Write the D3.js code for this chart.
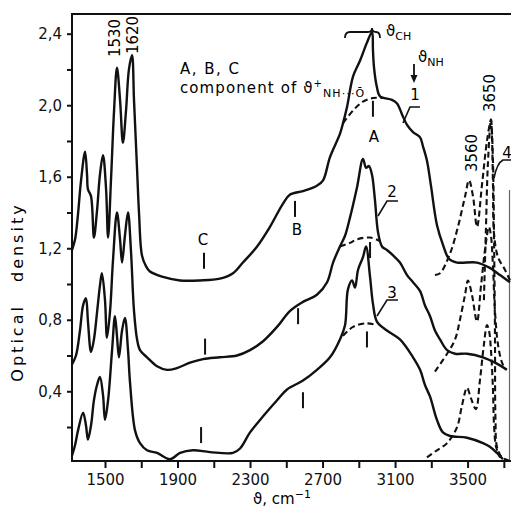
<!DOCTYPE html>
<html>
<head>
<meta charset="utf-8">
<script src="https://cdn.jsdelivr.net/npm/d3@7"></script>
<style>
  body { margin: 0; background: #fff; }
  svg { display: block; font-family: 'DejaVu Sans', sans-serif; }
</style>
</head>
<body>
<svg id="chart" width="511" height="510"></svg>
<script>
// spectra, [wavenumber cm-1, optical density]
const spectrum1 = [[1318,1.19],[1335,1.25],[1351,1.39],[1368,1.58],[1390,1.74],[1401,1.61],[1406,1.53],[1423,1.49],[1439,1.26],[1456,1.41],[1472,1.61],[1489,1.72],[1506,1.53],[1517,1.26],[1533,1.58],[1550,1.97],[1566,2.21],[1583,2.03],[1599,1.79],[1616,1.97],[1632,2.20],[1649,2.28],[1660,2.03],[1677,1.64],[1688,1.39],[1704,1.16],[1726,1.10],[1748,1.07],[1820,1.04],[1914,1.02],[2024,1.02],[2134,1.03],[2206,1.06],[2261,1.12],[2339,1.21],[2410,1.32],[2482,1.45],[2521,1.50],[2592,1.52],[2669,1.55],[2703,1.58],[2741,1.71],[2796,1.84],[2813,1.90],[2835,1.99],[2868,2.16],[2907,2.25],[2945,2.35],[2973,2.41],[2978,2.31],[2984,2.21],[3000,2.10],[3017,2.05],[3083,2.03],[3111,2.01],[3138,1.95],[3166,1.89],[3199,1.85],[3238,1.82],[3254,1.77],[3276,1.69],[3298,1.55],[3331,1.33],[3364,1.22],[3398,1.14],[3442,1.12],[3552,1.12],[3623,1.09],[3679,1.05],[3734,1.01]]
const spectrum2 = [[1318,0.55],[1340,0.60],[1362,0.74],[1379,0.88],[1395,0.92],[1406,0.79],[1423,0.62],[1439,0.69],[1456,0.84],[1472,0.99],[1483,1.06],[1500,0.91],[1511,0.70],[1528,0.85],[1544,1.13],[1566,1.40],[1583,1.25],[1594,1.12],[1610,1.27],[1627,1.40],[1643,1.19],[1660,0.85],[1677,0.69],[1693,0.63],[1732,0.59],[1787,0.54],[1842,0.52],[1897,0.53],[1969,0.56],[2041,0.58],[2134,0.59],[2228,0.60],[2300,0.63],[2372,0.68],[2449,0.76],[2521,0.85],[2592,0.90],[2669,0.94],[2725,1.01],[2758,1.12],[2796,1.21],[2824,1.27],[2851,1.37],[2890,1.54],[2923,1.70],[2940,1.65],[2956,1.66],[2973,1.61],[2989,1.47],[3006,1.29],[3028,1.21],[3055,1.19],[3089,1.16],[3127,1.12],[3166,1.05],[3199,1.01],[3238,0.96],[3265,0.88],[3293,0.82],[3320,0.74],[3348,0.69],[3387,0.63],[3431,0.61],[3497,0.61],[3585,0.59],[3651,0.56],[3717,0.52]]
const spectrum3 = [[1318,0.04],[1335,0.10],[1351,0.18],[1379,0.28],[1395,0.21],[1406,0.13],[1423,0.21],[1439,0.35],[1456,0.435],[1472,0.48],[1489,0.38],[1500,0.24],[1517,0.35],[1539,0.63],[1555,0.82],[1566,0.71],[1577,0.59],[1594,0.74],[1610,0.81],[1627,0.63],[1638,0.45],[1666,0.18],[1693,0.11],[1732,0.07],[1787,0.055],[1859,0.02],[1914,0.055],[1985,0.07],[2079,0.06],[2206,0.055],[2245,0.08],[2300,0.17],[2372,0.26],[2449,0.35],[2504,0.41],[2592,0.46],[2669,0.52],[2741,0.59],[2796,0.69],[2824,0.77],[2840,0.97],[2863,1.02],[2879,0.98],[2896,1.08],[2923,1.15],[2940,1.21],[2962,1.04],[2978,0.89],[3000,0.79],[3055,0.74],[3127,0.69],[3199,0.59],[3238,0.52],[3265,0.435],[3293,0.37],[3331,0.24],[3364,0.17],[3403,0.15],[3497,0.14],[3585,0.11],[3623,0.09],[3662,0.055],[3695,0.02]]

// dashed envelopes under the CH bands
const envelope1 = [[2813,1.90],[2868,1.97],[2923,2.02],[2978,2.04],[3033,2.04]]
const envelope2 = [[2796,1.21],[2851,1.23],[2890,1.25],[2962,1.26],[3017,1.24]]
const envelope3 = [[2813,0.71],[2868,0.76],[2945,0.78],[3000,0.77]]

// dashed NH bands (3560 / 3650)
const nh1 = [[3320,1.05],[3348,1.06],[3403,1.17],[3447,1.32],[3486,1.49],[3508,1.58],[3530,1.49],[3552,1.32],[3580,1.56],[3607,1.80],[3629,1.92],[3634,1.84],[3640,1.56],[3646,1.28],[3668,1.15],[3706,1.08],[3734,1.02]]
const nh2 = [[3320,0.51],[3387,0.61],[3431,0.69],[3458,0.80],[3486,0.94],[3502,1.02],[3524,0.94],[3552,0.79],[3574,0.99],[3596,1.19],[3618,1.32],[3629,1.27],[3640,1.10],[3651,0.85],[3668,0.66],[3690,0.56],[3712,0.52]]
const nh3 = [[3276,0.03],[3331,0.07],[3387,0.11],[3442,0.20],[3469,0.32],[3497,0.42],[3519,0.36],[3546,0.30],[3568,0.46],[3590,0.66],[3607,0.77],[3618,0.74],[3629,0.63],[3640,0.41],[3646,0.21],[3657,0.09],[3679,0.03]]
const spectrum4 = [[3590,0.91],[3601,1.30],[3612,1.67],[3629,1.92],[3640,1.69],[3646,1.25],[3651,0.74],[3654,0.24],[3662,0.09],[3690,0.03],[3734,0.01]]

// A, B, C component marks on each spectrum [wavenumber, od]
const marks = [[2046,1.13],[2548,1.42],[2978,1.98],[2052,0.65],[2565,0.82],[2962,1.19],[2030,0.155],[2592,0.35],[2945,0.69]]

const xTicks = [1500,1700,1900,2100,2300,2500,2700,2900,3100,3300,3500,3700]
const xLabels = [1500,1900,2300,2700,3100,3500]
const yTicks = [0.2,0.4,0.6,0.8,1.0,1.2,1.4,1.6,1.8,2.0,2.2,2.4]
const yLabels = [0.4,0.8,1.2,1.6,2.0,2.4]

const svg = d3.select('#chart')
const x = d3.scaleLinear().domain([1318, 3734]).range([72, 510])
const y = d3.scaleLinear().domain([0, 2.4]).range([462.8, 33.7])
const frameL = 72, frameT = 14, frameB = 461, frameR = 511

// frame
svg.append('path')
  .attr('d', `M${frameR},${frameT}H${frameL}V${frameB}H${frameR}`)
  .attr('fill', 'none').attr('stroke', '#111').attr('stroke-width', 2)
svg.append('line')
  .attr('x1', 509.5).attr('x2', 509.5).attr('y1', 190).attr('y2', frameB)
  .attr('stroke', '#666').attr('stroke-width', 1.2)

// axes
const xAxis = svg.append('g')
  .attr('transform', 'translate(0,' + frameB + ')')
  .call(d3.axisBottom(x).tickValues(xTicks).tickSize(7).tickPadding(6)
    .tickFormat(d => xLabels.includes(d) ? d : ''))
xAxis.select('.domain').remove()
xAxis.selectAll('line').attr('stroke', '#111').attr('stroke-width', 2)
xAxis.selectAll('text').attr('font-size', 15).attr('fill', '#111')
  .attr('font-family', 'DejaVu Sans, sans-serif')

const yAxis = svg.append('g')
  .attr('transform', 'translate(' + frameL + ',0)')
  .call(d3.axisLeft(y).tickValues(yTicks).tickSize(5).tickPadding(5)
    .tickFormat(d => yLabels.some(v => Math.abs(v - d) < 1e-6) ? d.toFixed(1).replace('.', ',') : ''))
yAxis.select('.domain').remove()
yAxis.selectAll('line').attr('stroke', '#111').attr('stroke-width', 2)
yAxis.selectAll('text').attr('font-size', 15).attr('fill', '#111')
  .attr('font-family', 'DejaVu Sans, sans-serif')

// axis titles
svg.append('text')
  .attr('transform', 'translate(23,292) rotate(-90)')
  .attr('text-anchor', 'middle').attr('font-size', 16)
  .style('letter-spacing', '3px').style('word-spacing', '14px')
  .text('Optical density')
const xt = svg.append('text').attr('x', 282).attr('y', 504)
  .attr('text-anchor', 'middle').attr('font-size', 15)
xt.append('tspan').text('ϑ,  cm')
xt.append('tspan').attr('font-size', 11).attr('dy', -6).text('−1')

// curves
const line = d3.line()
  .x(d => x(d[0]))
  .y(d => y(d[1]))
  .curve(d3.curveCatmullRom.alpha(0.5))

function draw(data, dashed) {
  svg.append('path')
    .datum(data)
    .attr('d', line)
    .attr('fill', 'none')
    .attr('stroke', '#111')
    .attr('stroke-width', dashed ? 2.1 : 2.4)
    .attr('stroke-linejoin', 'round')
    .attr('stroke-dasharray', dashed ? '6,3.5' : null)
}
;[spectrum1, spectrum2, spectrum3].forEach(d => draw(d, false))
;[envelope1, envelope2, envelope3, nh1, nh2, nh3, spectrum4].forEach(d => draw(d, true))

// component marks
svg.selectAll('.mark').data(marks).enter().append('line')
  .attr('x1', d => x(d[0])).attr('x2', d => x(d[0]))
  .attr('y1', d => y(d[1]) - 8).attr('y2', d => y(d[1]) + 8)
  .attr('stroke', '#111').attr('stroke-width', 2)

// text annotations
function label(tx, ty, s, size) {
  return svg.append('text').attr('x', tx).attr('y', ty)
    .attr('text-anchor', 'middle').attr('font-size', size || 15).text(s)
}
label(203, 245, 'C')
label(297, 235, 'B')
label(374, 142, 'A')
label(415, 100, '1')
label(392, 197, '2')
label(392, 298, '3')
label(507, 158, '4')

// leaders
const leaders = [
  'M420,107L410,107L403,123',
  'M398,201L387,201L378,216',
  'M398,300L387,300L377,316',
  'M511,160L503,160Q497,163 494,178'
]
leaders.forEach(p => svg.append('path').attr('d', p)
  .attr('fill', 'none').attr('stroke', '#111').attr('stroke-width', 1.6))

// rotated peak positions
const peakLabels = [[120, 38, '1530'], [138, 35, '1620'], [477, 153, '3560'], [495, 93, '3650']]
peakLabels.forEach(p => svg.append('text')
  .attr('transform', 'translate(' + p[0] + ',' + p[1] + ') rotate(-90)')
  .attr('text-anchor', 'middle').attr('font-size', 15).text(p[2]))

// legend text
svg.append('text').attr('x', 180).attr('y', 74).attr('font-size', 15)
  .style('letter-spacing', '1.5px').text('A, B, C')
const comp = svg.append('text').attr('x', 180).attr('y', 93).attr('font-size', 15)
  .style('letter-spacing', '1.1px')
comp.append('tspan').text('component of ϑ')
comp.append('tspan').attr('font-size', 10).attr('dy', -6).text('+')
comp.append('tspan').attr('font-size', 11).attr('dy', 10).text('NH···Ō')

// nu CH brace
svg.append('path')
  .attr('d', 'M345,38Q345,32 350,32L368,32Q372,32 372,28Q372,32 376,32Q380,32 380,38')
  .attr('fill', 'none').attr('stroke', '#111').attr('stroke-width', 1.8)
const ch = svg.append('text').attr('x', 386).attr('y', 36).attr('font-size', 15)
ch.append('tspan').text('ϑ')
ch.append('tspan').attr('font-size', 11).attr('dy', 4).text('CH')

// nu NH arrow
svg.append('line').attr('x1', 414).attr('x2', 414).attr('y1', 64).attr('y2', 77)
  .attr('stroke', '#111').attr('stroke-width', 1.8)
svg.append('path').attr('d', 'M410.5,75L417.5,75L414,83Z').attr('fill', '#111')
const nhl = svg.append('text').attr('x', 418).attr('y', 62).attr('font-size', 15)
nhl.append('tspan').text('ϑ')
nhl.append('tspan').attr('font-size', 11).attr('dy', 4).text('NH')
</script>
</body>
</html>
